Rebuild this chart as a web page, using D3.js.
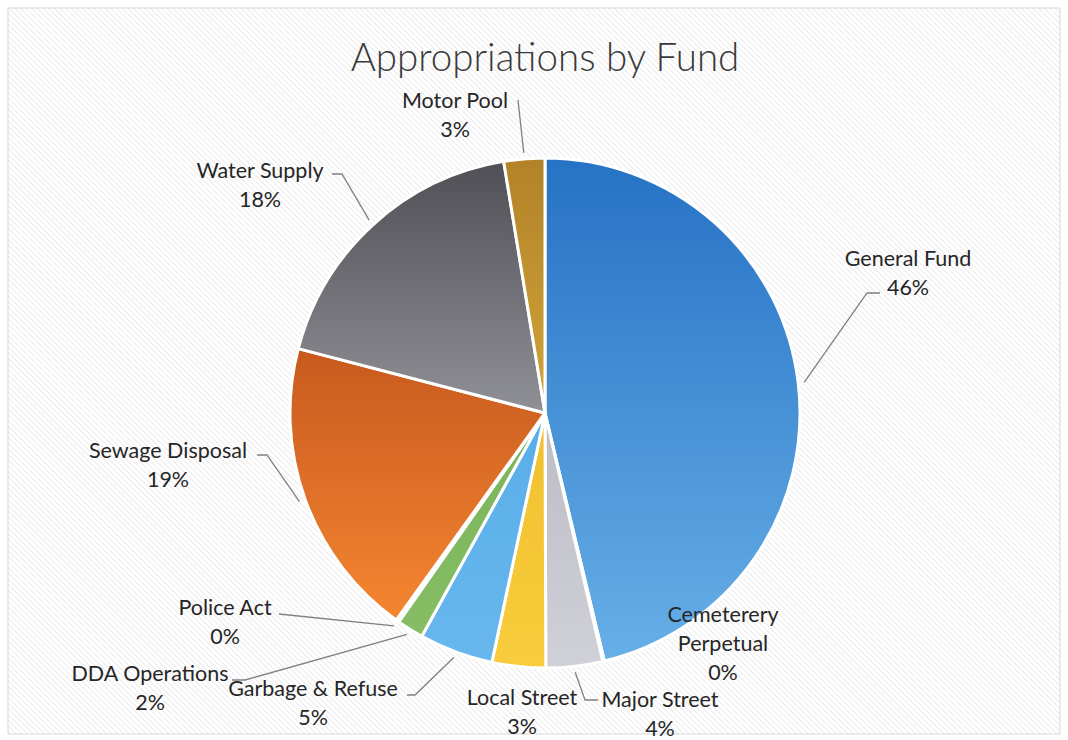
<!DOCTYPE html>
<html>
<head>
<meta charset="utf-8">
<script src="https://cdn.jsdelivr.net/npm/d3@7"></script>
<style>
  html, body { margin: 0; padding: 0; background: #fff; }
  svg { display: block; }
</style>
</head>
<body>
<svg id="chart" width="1068" height="740"></svg>
<script>
// data, clockwise from 12 o'clock
const funds = ["General Fund", "Cemeterery Perpetual", "Major Street", "Local Street",
  "Garbage & Refuse", "DDA Operations", "Police Act", "Sewage Disposal", "Water Supply", "Motor Pool"];
const shares = [46.4, 0.1, 3.6, 3.4, 4.7, 1.7, 0.2, 19.2, 18.4, 2.6];
const pctLabels = ["46%", "0%", "4%", "3%", "5%", "2%", "0%", "19%", "18%", "3%"];

// colours: [top, bottom] of the vertical gradient
const fills = [
  ["#2672c4", "#68b0e8"],
  ["#e87a2c", "#f89a4c"],
  ["#a8a8b0", "#d0d0d8"],
  ["#e8b420", "#f8cc3c"],
  ["#4aa2e0", "#68b8ee"],
  ["#6aa84c", "#88bf66"],
  ["#1f4e8c", "#2a5fa0"],
  ["#a83a12", "#fc8e34"],
  ["#4e4e54", "#d2d2da"],
  ["#b28228", "#f2c84a"]
];

// label layout (relative to pie centre): text lines, text centre, leader start, elbow
const labelLayout = [
  { lines: ["General Fund"], x: 363, y: -155, lead: [335, -120], elbow: [322, -120] },
  { lines: ["Cemeterery", "Perpetual"], x: 178, y: 201 },
  { lines: ["Major Street"], x: 115, y: 286, lead: [53, 287], elbow: [40, 287] },
  { lines: ["Local Street"], x: -23, y: 284 },
  { lines: ["Garbage & Refuse"], x: -232, y: 275, lead: [-138, 282], elbow: [-130, 282] },
  { lines: ["DDA Operations"], x: -395, y: 260, lead: [-313, 267], elbow: [-300, 267] },
  { lines: ["Police Act"], x: -320, y: 194, lead: [-266, 201], elbow: [-266, 201] },
  { lines: ["Sewage Disposal"], x: -377, y: 37, lead: [-288, 42], elbow: [-278, 42] },
  { lines: ["Water Supply"], x: -285, y: -243, lead: [-213, -239], elbow: [-203, -239] },
  { lines: ["Motor Pool"], x: -90, y: -313, lead: [-27, -313], elbow: [-27, -313] }
];

const width = 1068, height = 740;
const cx = 545, cy = 413, radius = 255;
const lineGap = 29;

const svg = d3.select("#chart");
const defs = svg.append("defs");

// scanned paper hatching
const hatch = defs.append("pattern")
  .attr("id", "hatch")
  .attr("width", 4).attr("height", 4)
  .attr("patternUnits", "userSpaceOnUse")
  .attr("patternTransform", "rotate(-45)");
hatch.append("rect").attr("width", 4).attr("height", 4).attr("fill", "#fff");
hatch.append("line").attr("x1", 0).attr("y1", 0).attr("x2", 0).attr("y2", 4)
  .attr("stroke", "#e2e2e4").attr("stroke-width", 1.4);

svg.append("rect").attr("width", width).attr("height", height).attr("fill", "#fff");
svg.append("rect")
  .attr("x", 8).attr("y", 8).attr("width", width - 16).attr("height", height - 14)
  .attr("fill", "url(#hatch)")
  .attr("stroke", "#d8d8d8").attr("stroke-width", 1);

// gradients in the pie's local space (centre at 0,0)
fills.forEach((c, i) => {
  const g = defs.append("linearGradient")
    .attr("id", "grad" + i)
    .attr("gradientUnits", "userSpaceOnUse")
    .attr("x1", 0).attr("y1", -radius)
    .attr("x2", 0).attr("y2", radius);
  g.append("stop").attr("offset", "0%").attr("stop-color", c[0]);
  g.append("stop").attr("offset", "100%").attr("stop-color", c[1]);
});

svg.append("text")
  .attr("x", cx).attr("y", 71)
  .attr("text-anchor", "middle")
  .attr("font-family", "Lato, 'Open Sans', sans-serif")
  .attr("font-weight", 300)
  .attr("font-size", 38.5)
  .attr("fill", "#3a3a3a")
  .text("Appropriations by Fund");

const pie = d3.pie().sort(null).value((d) => d)(shares);

const arc = d3.arc().innerRadius(0).outerRadius(radius);
const edge = d3.arc().innerRadius(radius + 6).outerRadius(radius + 6);

const pieG = svg.append("g").attr("transform", `translate(${cx},${cy})`);

pieG.selectAll("path.slice")
  .data(pie)
  .join("path")
  .attr("class", "slice")
  .attr("d", arc)
  .attr("fill", (d, i) => `url(#grad${i})`)
  .attr("stroke", "#fff")
  .attr("stroke-width", 3)
  .attr("stroke-linejoin", "round");

// leader lines
pieG.selectAll("path.leader")
  .data(pie.filter((d, i) => labelLayout[i].lead))
  .join("path")
  .attr("class", "leader")
  .attr("fill", "none")
  .attr("stroke", "#808080")
  .attr("stroke-width", 1.3)
  .attr("d", (d) => {
    const L = labelLayout[d.index];
    const p = edge.centroid(d);
    return d3.line()([L.lead, L.elbow, p]);
  });

pieG.selectAll("text.label")
  .data(pie)
  .join("text")
  .attr("class", "label")
  .attr("text-anchor", "middle")
  .attr("font-family", "Lato, 'Open Sans', sans-serif")
  .attr("font-size", 21.5)
  .attr("fill", "#262626")
  .each(function (d, i) {
    const L = labelLayout[i];
    const t = d3.select(this);
    L.lines.concat([pctLabels[i]]).forEach((s, k) => {
      t.append("tspan")
        .attr("x", L.x)
        .attr("y", L.y + k * lineGap)
        .attr("dy", "0.35em")
        .text(s);
    });
  });
</script>
</body>
</html>
